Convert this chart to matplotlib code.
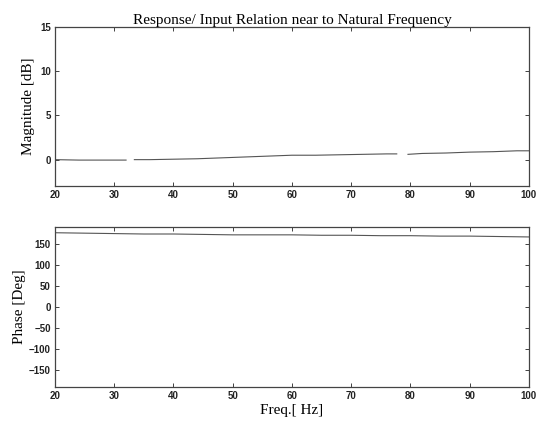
import numpy as np
import matplotlib.pyplot as plt

# frequency points (NaN marks a gap in the trace)
freq = [20, 24, 28, 32, 32.5, 33.4, 36, 40, 44, 48, 52, 56, 60, 64, 68, 72, 76,
        77.7, 78.5, 79.6, 82, 86, 90, 94, 98, 100]
magnitude_db = [0.0, -0.05, -0.05, -0.05, np.nan, 0.0, 0.0, 0.05, 0.1, 0.2, 0.3,
                0.4, 0.5, 0.5, 0.55, 0.6, 0.65, 0.65, np.nan, 0.6, 0.7, 0.75,
                0.85, 0.9, 1.0, 1.0]

phase_freq = [20, 25, 30, 35, 40, 45, 50, 55, 60, 65, 70, 75, 80, 85, 90, 95, 100]
phase_deg = [176, 175, 174, 173, 173, 172, 171, 171, 171, 170, 170, 169, 169,
             168, 168, 167, 166]

xticks = [20, 30, 40, 50, 60, 70, 80, 90, 100]
mag_ticks = [0, 5, 10, 15]
phase_ticks = [-150, -100, -50, 0, 50, 100, 150]

serif = ['Liberation Serif', 'DejaVu Serif']
sans = ['Liberation Sans', 'DejaVu Sans']

fig = plt.figure(figsize=(5.36, 4.28), dpi=100)
ax1 = fig.add_axes([0.1026, 0.565, 0.884, 0.372])
ax2 = fig.add_axes([0.1026, 0.096, 0.884, 0.374])

line_style = dict(color='#555555', linewidth=0.8)
ax1.plot(freq, magnitude_db, **line_style)
ax2.plot(phase_freq, phase_deg, **line_style)

ax1.set_xlim(20, 100)
ax1.set_ylim(-3, 15)
ax1.set_yticks(mag_ticks)
ax2.set_xlim(20, 100)
ax2.set_ylim(-190, 190)
ax2.set_yticks(phase_ticks)

for ax in (ax1, ax2):
    ax.set_xticks(xticks)
    ax.tick_params(direction='in', length=3, width=0.6, top=True, right=True,
                   labelsize=7, pad=3, colors='#222222')
    for lbl in ax.get_xticklabels() + ax.get_yticklabels():
        lbl.set_family(sans)
        lbl.set_fontweight('bold')
    for sp in ax.spines.values():
        sp.set_linewidth(0.9)
        sp.set_color('#444444')

ax1.set_title('Response/ Input Relation near to Natural Frequency',
              family=serif, fontsize=11, pad=2)
ax1.set_ylabel('Magnitude [dB]', family=serif, fontsize=11, labelpad=4)
ax2.set_ylabel('Phase [Deg]', family=serif, fontsize=11, labelpad=2)
ax2.set_xlabel('Freq.[ Hz]', family=serif, fontsize=11, labelpad=2)

fig.savefig('out.png', dpi=100)
